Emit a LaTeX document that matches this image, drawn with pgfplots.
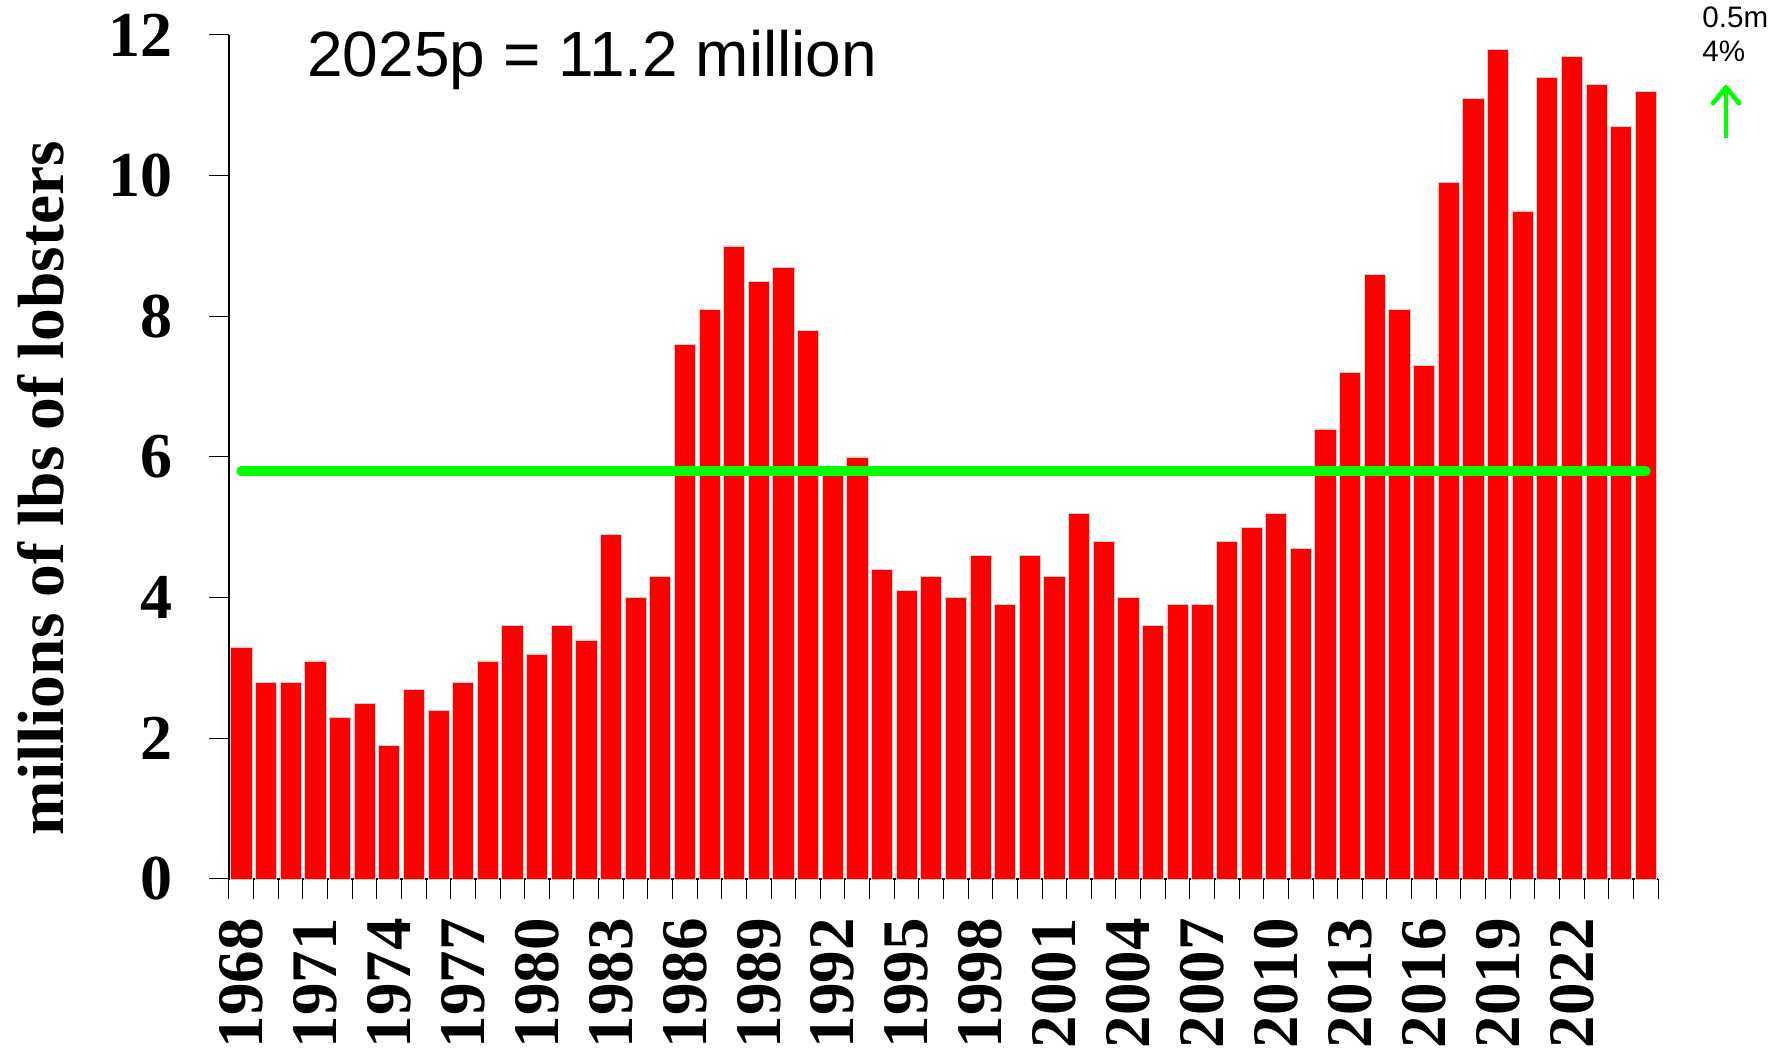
\documentclass[border=0pt]{standalone}
\usepackage{pgfplots}
\pgfplotsset{compat=1.18}
\usepackage{pgfplotstable}
\usetikzlibrary{arrows.meta}
\usepackage{fontspec}
\setmainfont{Liberation Serif}
\newfontfamily\arial{Liberation Sans}
\definecolor{brightgreen}{RGB}{0,255,0}
\definecolor{barred}{RGB}{255,0,0}
\pgfplotstableread{
year value
1968 3.3
1969 2.8
1970 2.8
1971 3.1
1972 2.3
1973 2.5
1974 1.9
1975 2.7
1976 2.4
1977 2.8
1978 3.1
1979 3.6
1980 3.2
1981 3.6
1982 3.4
1983 4.9
1984 4.0
1985 4.3
1986 7.6
1987 8.1
1988 9.0
1989 8.5
1990 8.7
1991 7.8
1992 5.8
1993 6.0
1994 4.4
1995 4.1
1996 4.3
1997 4.0
1998 4.6
1999 3.9
2000 4.6
2001 4.3
2002 5.2
2003 4.8
2004 4.0
2005 3.6
2006 3.9
2007 3.9
2008 4.8
2009 5.0
2010 5.2
2011 4.7
2012 6.4
2013 7.2
2014 8.6
2015 8.1
2016 7.3
2017 9.9
2018 11.1
2019 11.8
2020 9.5
2021 11.4
2022 11.7
2023 11.3
2024 10.7
2025 11.2
}\landings
\begin{document}
\begin{tikzpicture}
\useasboundingbox (-114.5pt,-84.5pt) rectangle (771pt,439.5pt);
\begin{axis}[
  at={(0,0)}, anchor=south west,
  scale only axis, width=714.5pt, height=422pt,
  xmin=1967.5, xmax=2025.5, ymin=0, ymax=12,
  axis x line*=bottom, axis y line*=left,
  axis line style={line width=0.6pt, -},
  tick align=outside,
  major tick length=10pt,
  tick style={black, line width=0.5pt},
  ytick={0,2,4,6,8,10,12},
  xtick={1967.5,1968.5,...,2025.5},
  xticklabels={},
  extra x ticks={1968,1971,1974,1977,1980,1983,1986,1989,1992,1995,1998,2001,2004,2007,2010,2013,2016,2019,2022},
  extra x tick labels={1968,1971,1974,1977,1980,1983,1986,1989,1992,1995,1998,2001,2004,2007,2010,2013,2016,2019,2022},
  extra x tick style={major tick length=0pt},
  /pgf/number format/assume math mode=true,
  xticklabel style={font=\fontsize{32.5}{33}\selectfont\bfseries, yshift=-19.5pt, rotate=90, anchor=east, inner sep=0pt},
  yticklabel style={font=\fontsize{32}{32}\selectfont\bfseries, anchor=east, inner sep=0pt, xshift=-18pt},
  ylabel={millions of lbs of lobsters},
  ylabel style={font=\fontsize{32.7}{33}\selectfont\bfseries, at={(axis description cs:-0.132,0.463)}, anchor=center},
  clip=false,
]
\addplot[ybar, bar width=10.6pt, fill=barred, draw=gray!35, line width=0.3pt] table[x=year, y=value] {\landings};
\addplot[brightgreen, line width=5pt, line cap=round] coordinates {(1968,5.8) (2025,5.8)};
\end{axis}
\node[font=\arial\fontsize{32}{32}\selectfont, anchor=base west, inner sep=0pt] at (39pt,401pt) {2025p = 11.2 million};
\node[font=\arial\fontsize{14.8}{15}\selectfont, anchor=base west, inner sep=0pt] at (736.5pt,425.5pt) {0.5m};
\node[font=\arial\fontsize{14.8}{15}\selectfont, anchor=base west, inner sep=0pt] at (736.5pt,408.5pt) {4\%};
\draw[brightgreen, line width=2.3pt, -{Straight Barb[length=8pt, width=13pt, round]}] (748.5pt,370.5pt) -- (748.5pt,397pt);
\end{tikzpicture}
\end{document}
